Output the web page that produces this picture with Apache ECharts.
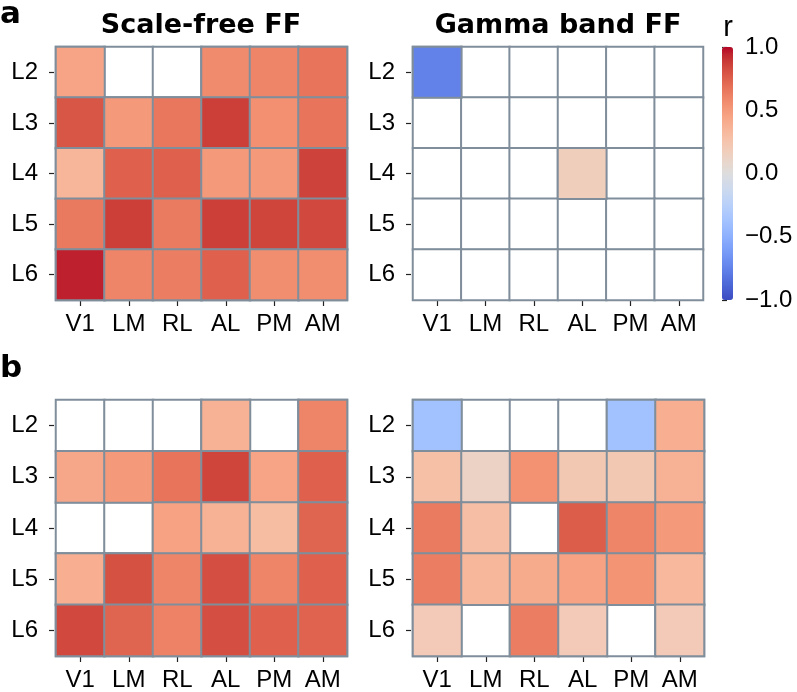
<!DOCTYPE html>
<html>
<head>
<meta charset="utf-8">
<script src="https://cdn.jsdelivr.net/npm/echarts@6/dist/echarts.min.js"></script>
<style>html,body{margin:0;padding:0;background:#fff;}#c{width:797px;height:692px;}</style>
</head>
<body>
<div id="c"></div>
<script>
const cols = ['V1', 'LM', 'RL', 'AL', 'PM', 'AM'];
const rows = ['L2', 'L3', 'L4', 'L5', 'L6'];
// rows L2..L6, columns V1..AM; null = no value (blank cell)
const scaleFreeA = [
  [0.45, null, null, 0.57, 0.60, 0.67],
  [0.79, 0.50, 0.66, 0.87, 0.55, 0.67],
  [0.35, 0.75, 0.75, 0.50, 0.50, 0.86],
  [0.65, 0.87, 0.64, 0.87, 0.85, 0.84],
  [0.95, 0.60, 0.63, 0.75, 0.56, 0.56]
];
const gammaA = [
  [-0.75, null, null, null, null, null],
  [null, null, null, null, null, null],
  [null, null, null, 0.17, null, null],
  [null, null, null, null, null, null],
  [null, null, null, null, null, null]
];
const scaleFreeB = [
  [null, null, null, 0.37, null, 0.60],
  [0.43, 0.50, 0.67, 0.85, 0.45, 0.75],
  [null, null, 0.46, 0.37, 0.30, 0.73],
  [0.39, 0.81, 0.60, 0.82, 0.60, 0.75],
  [0.84, 0.73, 0.61, 0.82, 0.75, 0.74]
];
const gammaB = [
  [-0.38, null, null, null, -0.38, 0.39],
  [0.28, 0.13, 0.54, 0.22, 0.22, 0.37],
  [0.64, 0.29, null, 0.76, 0.60, 0.50],
  [0.63, 0.34, 0.41, 0.46, 0.53, 0.33],
  [0.20, null, 0.63, 0.20, null, 0.20]
];
const panelTitles = ['Scale-free FF', 'Gamma band FF'];
const panelLetters = ['a', 'b'];
const colorbarTicks = [-1, -0.5, 0, 0.5, 1];
const colorbarLabel = 'r';

// matplotlib "coolwarm" colormap samples
const coolwarm = ['#3b4cc0','#445acc','#4d68d7','#5775e1','#6282ea','#6c8ef1','#779af7','#82a5fb',
  '#8db0fe','#98b9ff','#a3c2ff','#aec9fd','#b8d0f9','#c2d5f4','#ccd9ee','#d5dbe6','#dddddd',
  '#e5d8d1','#ecd3c5','#f1ccb9','#f5c4ad','#f7bba0','#f7b194','#f7a687','#f49a7b','#f18d6f',
  '#ec7f63','#e57058','#de604d','#d55042','#cb3e38','#c0282f','#b40426'];

const grey = '#808e9c';
const panels = [scaleFreeA, gammaA, scaleFreeB, gammaB];
const grids = [
  {left: 56, top: 47, width: 291, height: 253},
  {left: 413, top: 47, width: 290, height: 253},
  {left: 56, top: 400, width: 291, height: 257},
  {left: 413, top: 400, width: 291, height: 257},
  {left: 722, top: 47, width: 11, height: 253}
];
const labelFont = {fontFamily: 'Liberation Sans', fontSize: 24, color: '#000'};

const xAxes = [], yAxes = [], series = [], colored = [];
panels.forEach((m, p) => {
  xAxes.push({
    type: 'category', gridIndex: p, data: cols, position: 'bottom', offset: 1,
    axisLine: {show: false},
    axisTick: {show: true, length: 5, alignWithLabel: true, lineStyle: {color: '#222', width: 1.2}},
    axisLabel: Object.assign({margin: 11, interval: 0}, labelFont),
    splitLine: {show: false}
  });
  yAxes.push({
    type: 'category', gridIndex: p, data: rows, inverse: true, offset: 2,
    axisLine: {show: false},
    axisTick: {show: true, length: 5, alignWithLabel: true, lineStyle: {color: '#222', width: 1.2}},
    axisLabel: Object.assign({margin: 16, interval: 0}, labelFont),
    splitLine: {show: false}
  });
  const bg = [];
  rows.forEach((r, j) => cols.forEach((c, i) => bg.push([i, j, 0])));
  series.push({
    type: 'heatmap', xAxisIndex: p, yAxisIndex: p, data: bg, silent: true,
    itemStyle: {color: '#ffffff', borderColor: grey, borderWidth: 2}
  });
  const d = [];
  m.forEach((row, j) => row.forEach((v, i) => { if (v !== null) d.push([i, j, v]); }));
  colored.push(series.length);
  series.push({
    type: 'heatmap', xAxisIndex: p, yAxisIndex: p, data: d,
    itemStyle: {borderColor: grey, borderWidth: 2}
  });
});
// colorbar axis
xAxes.push({type: 'value', gridIndex: 4, show: false, min: 0, max: 1});
yAxes.push({
  type: 'value', gridIndex: 4, position: 'right',
  min: colorbarTicks[0], max: colorbarTicks[colorbarTicks.length - 1], interval: 0.5,
  axisLine: {show: false},
  axisTick: {show: true, length: 5, lineStyle: {color: '#222', width: 1.2}},
  splitLine: {show: false},
  axisLabel: Object.assign({margin: 12, formatter: v => (v < 0 ? '\u2212' : '') + Math.abs(v).toFixed(1)}, labelFont)
});

const chart = echarts.init(document.getElementById('c'), null, {renderer: 'canvas'});
chart.setOption({
  animation: false,
  backgroundColor: '#ffffff',
  grid: grids.map((g, k) => Object.assign({show: k < 4, borderColor: grey, borderWidth: 1, containLabel: false}, g)),
  xAxis: xAxes,
  yAxis: yAxes,
  visualMap: {
    type: 'continuous', min: -1, max: 1, seriesIndex: colored,
    inRange: {color: coolwarm}, calculable: false, orient: 'vertical',
    left: 722, top: 47, itemWidth: 11, itemHeight: 253, padding: 0
  },
  graphic: [
    {type: 'text', style: {text: panelLetters[0], x: 0, y: -1, font: 'bold 31px "DejaVu Sans"', fill: '#000'}},
    {type: 'text', style: {text: panelLetters[1], x: 0, y: 353, font: 'bold 31px "DejaVu Sans"', fill: '#000'}},
    {type: 'text', style: {text: panelTitles[0], x: 201, y: 26, textAlign: 'center', textVerticalAlign: 'middle', font: 'bold 27px "DejaVu Sans"', fill: '#000'}},
    {type: 'text', style: {text: panelTitles[1], x: 558, y: 26, textAlign: 'center', textVerticalAlign: 'middle', font: 'bold 27px "DejaVu Sans"', fill: '#000'}},
    {type: 'text', style: {text: colorbarLabel, x: 728, y: 28, textAlign: 'center', textVerticalAlign: 'middle', font: '29px "Liberation Sans"', fill: '#000'}}
  ],
  series: series
});
</script>
</body>
</html>
